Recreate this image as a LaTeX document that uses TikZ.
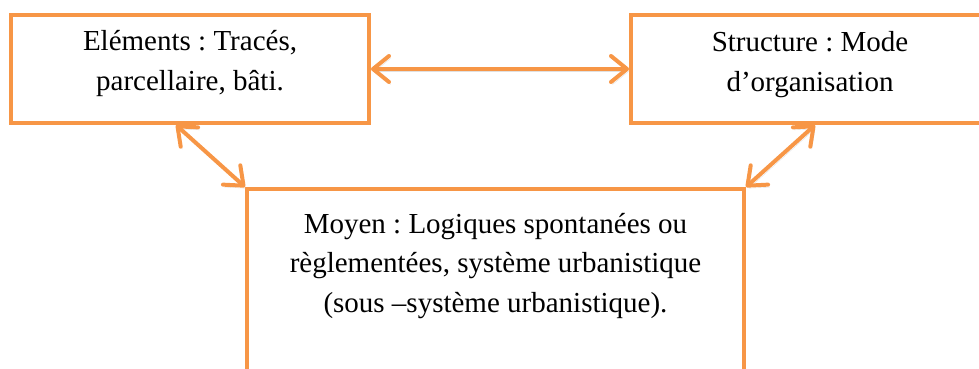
\documentclass[tikz,border=0pt]{standalone}
\usepackage{fontspec}
\setmainfont{Liberation Serif}
\usetikzlibrary{arrows.meta}
\definecolor{orangebord}{HTML}{F79646}
\frenchspacing

\begin{document}
\begin{tikzpicture}[x=1pt,y=-1pt,
    bloc/.style={draw=orangebord,line width=4pt,fill=white,inner sep=0pt,
        anchor=north,align=center,font=\fontsize{29}{39.5}\selectfont},
    lien/.style={draw=orangebord,line width=4pt,line cap=round,
        {Straight Barb[length=16pt,width=26pt,round]}-{Straight Barb[length=16pt,width=26pt,round]},
        preaction={draw=black!12,transform canvas={shift={(1.5pt,-2.5pt)}}}}]
\useasboundingbox (0,0) rectangle (979,369);
\clip (0,0) rectangle (979,369);
\node[bloc,minimum width=358pt,text height=75pt,text depth=33pt] (elements) at (190,13)
    {Eléments : Tracés,\\ parcellaire, bâti.};
\node[bloc,minimum width=358pt,text height=76pt,text depth=32pt] (structure) at (810,13)
    {Structure : Mode\\ d’organisation};
\node[bloc,minimum width=497pt,text height=123pt,text depth=62pt] (moyen) at (495.5,187)
    {Moyen : Logiques spontanées ou\\ règlementées, système urbanistique\\ (sous –système urbanistique).};
\draw[lien] (elements.east) -- (structure.west);
\draw[lien] ([xshift=167pt]elements.south west) -- (moyen.north west);
\draw[lien] ([xshift=186pt]structure.south west) -- (moyen.north east);
\end{tikzpicture}
\end{document}
